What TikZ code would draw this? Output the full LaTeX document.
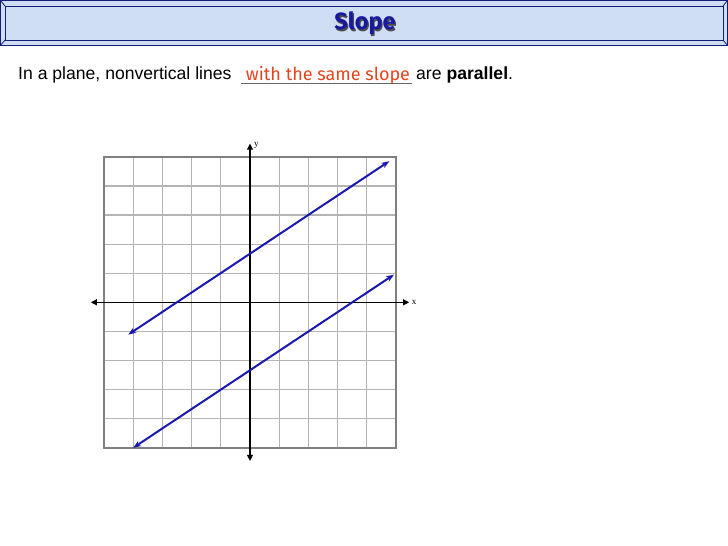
\documentclass[tikz,border=0pt]{standalone}
\usepackage{fontspec}
\setmainfont{Liberation Sans}
\newfontfamily\titlefont{Fira Sans}
\newfontfamily\labelfont{Liberation Serif}
\usetikzlibrary{arrows.meta}
\definecolor{bannerbg}{RGB}{208,222,245}
\definecolor{bannerline}{RGB}{20,30,120}
\definecolor{titleblue}{RGB}{25,25,160}
\definecolor{answered}{RGB}{225,70,30}
\definecolor{gridgray}{RGB}{180,180,180}
\definecolor{linesblue}{RGB}{25,25,175}
\tikzset{
  gridline/.style={gridgray, line width=1.2pt},
  axisline/.style={black, line width=1.1pt},
  parline/.style={linesblue, line width=2pt, {Stealth[length=8pt,width=6pt]}-{Stealth[length=8pt,width=6pt]}},
  axislabel/.style={font=\labelfont\fontsize{9}{9}\selectfont, inner sep=1pt}
}
\begin{document}
\begin{tikzpicture}[x=1pt,y=-1pt]
\useasboundingbox (0,0) rectangle (728,546);
\fill[white] (0,0) rectangle (728,546);
% banner
\fill[bannerbg] (0,0) rectangle (728,46);
\draw[bannerline, line width=1.2pt] (0.6,0.6) rectangle (727.4,45.4);
\draw[bannerline, line width=1pt] (5,6) rectangle (723,40);
\draw[bannerline, line width=0.8pt] (0.6,0.6) -- (5,6) (727.4,0.6) -- (723,6) (0.6,45.4) -- (5,40) (727.4,45.4) -- (723,40);
\node[font=\titlefont\bfseries\fontsize{23.5}{23.5}\selectfont, text=black!70] at (366.2,25) {Slope};
\node (title) [font=\titlefont\bfseries\fontsize{23.5}{23.5}\selectfont, text=titleblue] at (365,23.5) {Slope};
% sentence
\node (s1) [anchor=base west, inner sep=0pt, font=\fontsize{17.6}{17.6}\selectfont] at (18,79.5) {In a plane, nonvertical lines};
\coordinate (blankL) at (241,83.5);
\coordinate (blankR) at (412,83.5);
\draw[black!60, line width=1pt] (blankL) -- (blankR);
\node (ans) [anchor=base, inner sep=0pt, text=answered, font=\titlefont\fontsize{18}{18}\selectfont] at (328,80) {with the same slope};
\node (s2) [anchor=base west, inner sep=0pt, font=\fontsize{17.6}{17.6}\selectfont] at (416,79.5) {are \textbf{parallel}.};
% graph
\begin{scope}[shift={(250,302.3)}, x=29.2pt, y=29.1pt]
  \foreach \i in {-4,...,4} {
    \draw[gridline] (\i,-5) -- (\i,5);
    \draw[gridline] (-5,\i) -- (5,\i);
  }
  \draw[gray, line width=1.8pt] (-5,-5) rectangle (5,5);
  \coordinate (xl) at (-5.45,0);
  \coordinate (xr) at (5.45,0);
  \coordinate (yb) at (0,-5.45);
  \coordinate (yt) at (0,5.45);
  \draw[axisline, {Triangle[length=6pt,width=6pt]}-{Triangle[length=6pt,width=6pt]}] (xl) -- (xr);
  \draw[axisline, {Triangle[length=6pt,width=6pt]}-{Triangle[length=6pt,width=6pt]}] (yb) -- (yt);
  \node (xlab) [axislabel, anchor=west] at (5.5,0) {x};
  \node (ylab) [axislabel, anchor=west] at (0.1,5.4) {y};
  \coordinate (a1) at (-4.17,-1.11);
  \coordinate (a2) at (4.77,4.85);
  \coordinate (b1) at (-4.0,-5.0);
  \coordinate (b2) at (4.93,0.95);
  \draw[parline] (a1) -- (a2);
  \draw[parline] (b1) -- (b2);
\end{scope}
\end{tikzpicture}
\end{document}
